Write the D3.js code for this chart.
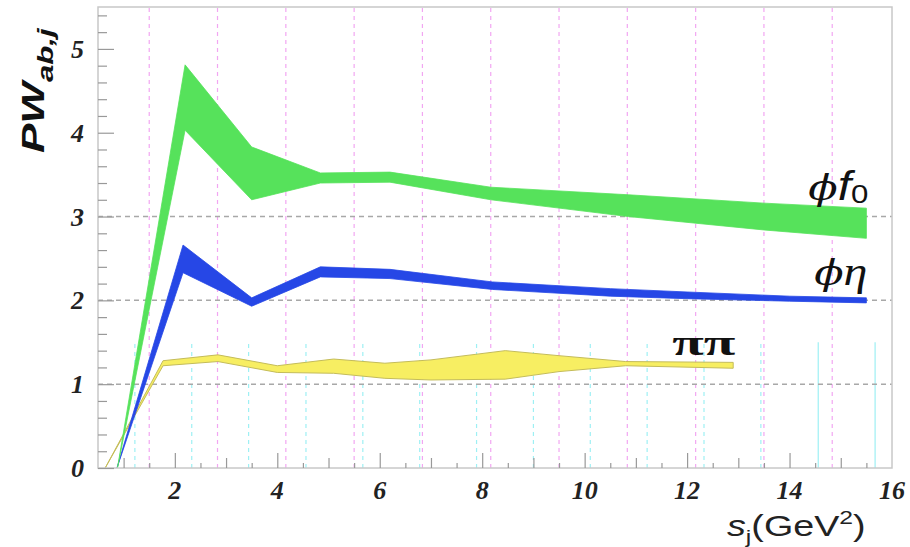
<!DOCTYPE html>
<html>
<head>
<meta charset="utf-8">
<script src="https://cdn.jsdelivr.net/npm/d3@7"></script>
<style>
  html, body { margin: 0; padding: 0; background: #ffffff; }
  svg { display: block; }
</style>
</head>
<body>
<svg id="chart" width="910" height="547"></svg>
<script>
// Partial-wave bands PW_{ab,j} versus s_j, each given as lower/upper edge.
const phiF0X  = [0.88, 2.2, 3.5, 4.84, 6.2, 8.17, 10.85, 13.5, 15.5];
const phiF0Lo = [0.0, 4.03, 3.2, 3.40, 3.41, 3.20, 3.00, 2.84, 2.74];
const phiF0Hi = [0.0, 4.81, 3.83, 3.52, 3.53, 3.35, 3.26, 3.16, 3.10];

const phiEtaX  = [0.87, 2.16, 3.5, 4.84, 6.2, 8.2, 10.5, 12.0, 14.0, 15.5];
const phiEtaLo = [0.0, 2.33, 1.93, 2.28, 2.26, 2.13, 2.05, 2.02, 1.99, 1.97];
const phiEtaHi = [0.0, 2.66, 2.03, 2.40, 2.37, 2.22, 2.14, 2.10, 2.05, 2.03];

const pipiX  = [0.64, 1.77, 2.84, 4.0, 5.1, 6.1, 7.0, 8.45, 9.5, 10.8, 12.9];
const pipiLo = [0.0, 1.22, 1.27, 1.14, 1.13, 1.07, 1.05, 1.06, 1.15, 1.22, 1.19];
const pipiHi = [0.0, 1.28, 1.35, 1.22, 1.30, 1.25, 1.29, 1.40, 1.34, 1.27, 1.26];

// Axis ticks and reference lines
const xTickLabels = [2, 4, 6, 8, 10, 12, 14, 16];
const yTickLabels = [0, 1, 2, 3, 4, 5];
const yGridValues = [1, 2, 3];
const magentaLines = [1.5, 2.833, 4.167, 5.5, 6.833, 8.167, 9.5, 10.833, 12.167, 13.5, 14.833];
const cyanLines = [1.22, 2.33, 3.44, 4.56, 5.67, 6.78, 7.89, 9.0, 10.11, 11.22, 12.33, 13.44, 14.56, 15.67];
const cyanTop = 1.5;

const svg = d3.select("#chart");
const x = d3.scaleLinear().domain([0.5, 16]).range([98, 892]);
const y = d3.scaleLinear().domain([0, 5.5]).range([468, 7]);
const [x0, x1] = x.range();
const [y0, y1] = y.range();

// Reference lines
const grid = svg.append("g");
grid.selectAll("line.cy").data(cyanLines).join("line")
  .attr("x1", d => x(d)).attr("x2", d => x(d))
  .attr("y1", y(0)).attr("y2", y(cyanTop))
  .attr("stroke", "#9ef0f4").attr("stroke-width", 1.2)
  .attr("stroke-dasharray", d => d > 14 ? null : "4,4");
grid.selectAll("line.mg").data(magentaLines).join("line")
  .attr("x1", d => x(d)).attr("x2", d => x(d))
  .attr("y1", y0).attr("y2", y1)
  .attr("stroke", "#f2a6f2").attr("stroke-width", 1.2)
  .attr("stroke-dasharray", "4,4");
grid.selectAll("line.hg").data(yGridValues).join("line")
  .attr("x1", x0).attr("x2", x1)
  .attr("y1", d => y(d)).attr("y2", d => y(d))
  .attr("stroke", "#a8a8a8").attr("stroke-width", 1.5)
  .attr("stroke-dasharray", "5,4");

// Bands
function band(xs, lo, hi) {
  return d3.area()
    .x((d, i) => x(xs[i]))
    .y0((d, i) => y(lo[i]))
    .y1((d, i) => y(hi[i]))(xs);
}
svg.append("path").attr("d", band(pipiX, pipiLo, pipiHi))
  .attr("fill", "#f7ee62").attr("stroke", "#c4bc5a").attr("stroke-width", 1);
svg.append("path").attr("d", band(phiEtaX, phiEtaLo, phiEtaHi))
  .attr("fill", "#2647e6").attr("stroke", "#2647e6").attr("stroke-width", 0.8);
svg.append("path").attr("d", band(phiF0X, phiF0Lo, phiF0Hi))
  .attr("fill", "#56e25b").attr("stroke", "#56e25b").attr("stroke-width", 0.8);

// Frame
svg.append("rect").attr("x", x0).attr("y", y1)
  .attr("width", x1 - x0).attr("height", y0 - y1)
  .attr("fill", "none").attr("stroke", "#c8c8c8").attr("stroke-width", 1.5);

// Y axis ticks (inward) and labels
const yAxis = d3.axisRight(y)
  .tickValues(d3.range(0, 5.41, 0.2))
  .tickSize(0).tickFormat("");
const ya = svg.append("g").attr("transform", `translate(${x0},0)`).call(yAxis);
ya.select(".domain").remove();
ya.selectAll(".tick line")
  .attr("x2", d => Math.abs(d - Math.round(d)) < 1e-6 ? 16 : 9)
  .attr("stroke", "#999").attr("stroke-width", 1.2);
svg.append("g").selectAll("text").data(yTickLabels).join("text")
  .attr("x", 84).attr("y", d => y(d) + 9)
  .attr("text-anchor", "end")
  .attr("font-family", "Liberation Serif").attr("font-style", "italic").attr("font-weight", "bold")
  .attr("font-size", 26).attr("fill", "#222")
  .text(d => d);

// X axis ticks (inward) and labels
const xAxis = d3.axisTop(x)
  .tickValues(d3.range(1, 15.76, 0.5))
  .tickSize(0).tickFormat("");
const xa = svg.append("g").attr("transform", `translate(0,${y0})`).call(xAxis);
xa.select(".domain").remove();
xa.selectAll(".tick line")
  .attr("y2", d => d % 2 === 0 ? -15 : (d % 1 === 0 ? -10 : -5))
  .attr("stroke", "#999").attr("stroke-width", 1.2);
svg.append("g").selectAll("text").data(xTickLabels).join("text")
  .attr("x", d => x(d)).attr("y", 499)
  .attr("text-anchor", "middle")
  .attr("font-family", "Liberation Serif").attr("font-style", "italic").attr("font-weight", "bold")
  .attr("font-size", 26).attr("fill", "#222")
  .text(d => d);

// Axis titles (wide lettering)
const yt = svg.append("text")
  .attr("transform", `translate(44,153) rotate(-90) scale(1.42,1)`)
  .attr("font-family", "Liberation Sans").attr("font-style", "italic").attr("font-weight", "bold")
  .attr("font-size", 31).attr("fill", "#111");
yt.append("tspan").text("PW");
yt.append("tspan").attr("dy", 9).attr("font-size", 22).text("ab,j");

const xt = svg.append("text")
  .attr("transform", `translate(727,536) scale(1.3,1)`)
  .attr("font-family", "Liberation Sans").attr("font-size", 29).attr("fill", "#222");
xt.append("tspan").attr("font-style", "italic").text("s");
xt.append("tspan").attr("dy", 7).attr("font-size", 19).text("j");
xt.append("tspan").attr("dy", -7).text("(GeV");
xt.append("tspan").attr("dy", -12).attr("font-size", 19).text("2");
xt.append("tspan").attr("dy", 12).text(")");

// Band labels
const l1 = svg.append("text")
  .attr("transform", `translate(${x(15.54)},${y(3.2)}) scale(1.2,1)`)
  .attr("text-anchor", "end").attr("fill", "#111");
l1.append("tspan").attr("font-family", "DejaVu Serif").attr("font-style", "italic").attr("font-size", 36).text("\u03d5");
l1.append("tspan").attr("font-family", "Liberation Sans").attr("font-style", "italic").attr("font-size", 40).text("f");
l1.append("tspan").attr("font-family", "Liberation Sans").attr("font-size", 26).attr("dy", 3).text("0");

const l2 = svg.append("text")
  .attr("transform", `translate(${x(15.52)},${y(2.18)}) scale(1.2,1)`)
  .attr("text-anchor", "end").attr("fill", "#111")
  .attr("font-size", 36);
l2.append("tspan").attr("font-family", "DejaVu Serif").attr("font-style", "italic").text("\u03d5");
l2.append("tspan").attr("font-family", "Liberation Serif").attr("font-style", "italic").attr("font-size", 40).text("\u03b7");

svg.append("text")
  .attr("transform", `translate(${x(12.94)},${y(1.35)}) scale(1.6,1)`)
  .attr("text-anchor", "end").attr("fill", "#111")
  .attr("font-family", "Liberation Serif").attr("font-weight", "bold").attr("font-size", 36)
  .text("\u03c0\u03c0");
</script>
</body>
</html>
